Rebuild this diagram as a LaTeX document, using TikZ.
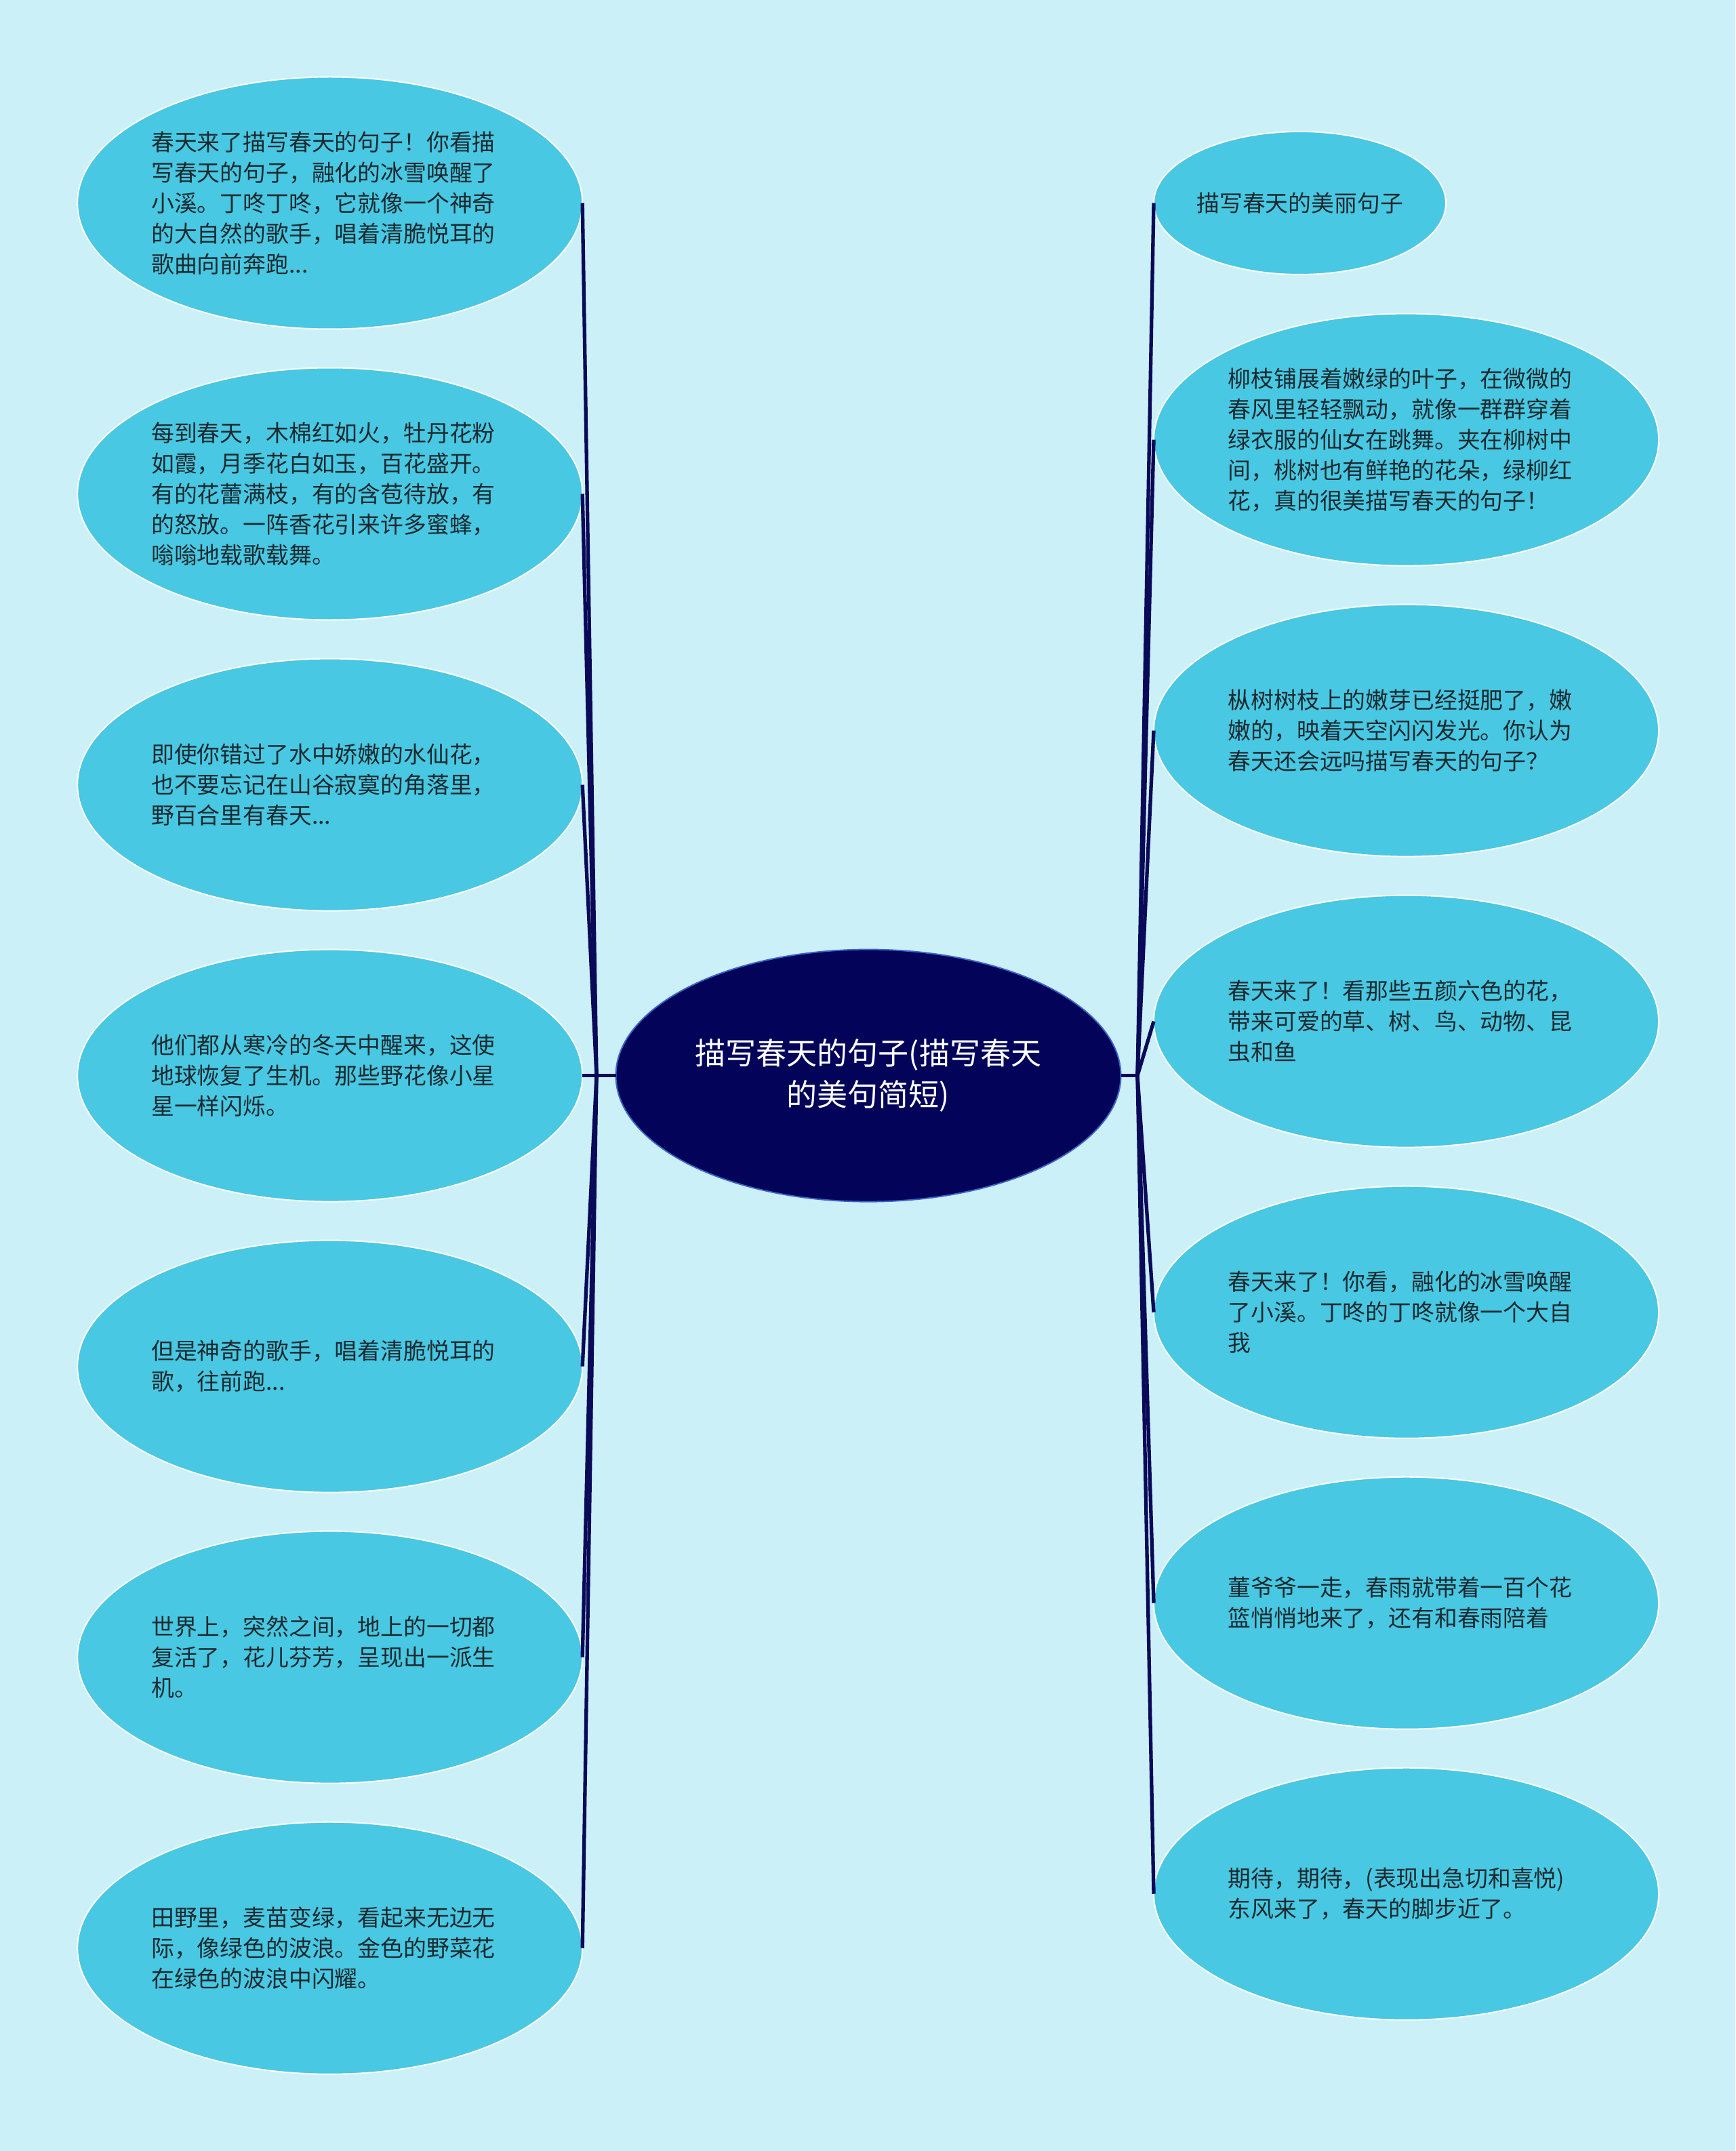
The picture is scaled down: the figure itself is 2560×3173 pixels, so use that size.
\documentclass[tikz,border=0pt]{standalone}
\usepackage{fontspec}
\setmainfont{Noto Sans CJK SC}
\usetikzlibrary{shapes.geometric}
\definecolor{bgc}{RGB}{203,240,248}
\definecolor{leaf}{RGB}{72,200,226}
\definecolor{rootfill}{RGB}{3,3,90}
\definecolor{rootline}{RGB}{60,100,200}
\definecolor{linkc}{RGB}{10,10,88}
\definecolor{txt}{RGB}{28,42,48}
\begin{document}
\begin{tikzpicture}[x=0.3pt,y=-0.3pt,
  leafbox/.style={ellipse,fill=leaf,draw=white,line width=0.6pt,inner sep=0pt,outer sep=0pt,minimum width=223.5pt,minimum height=111.6pt},
  smallbox/.style={leafbox,minimum width=129.3pt,minimum height=63.3pt},
  rootbox/.style={ellipse,fill=rootfill,draw=rootline,line width=0.6pt,inner sep=0pt,outer sep=0pt,minimum width=223.5pt,minimum height=111.6pt},
  leaftext/.style={anchor=west,align=left,inner sep=0pt,text=txt,font=\fontsize{10.15pt}{13.5pt}\selectfont},
  roottext/.style={align=center,inner sep=0pt,text=white,font=\fontsize{13.5pt}{18.3pt}\selectfont},
  link/.style={draw=linkc,line width=1.6pt}
]
\fill[bgc] (0,0) rectangle (2560,3173);
\useasboundingbox (0,0) rectangle (2560,3173);

% connectors (drawn first, under the nodes)
\coordinate (jl) at (880,1586.6);
\coordinate (jr) at (1678,1586.6);

% root
\node[rootbox] (root) at (1281,1586.6) {};
\node[roottext] (roottxt) at (1281,1586.6) {描写春天的句子(描写春天\\的美句简短)};

% left children
\node[leafbox] (l1) at (486.7,299.5) {};
\node[leafbox] (l2) at (486.7,728.5) {};
\node[leafbox] (l3) at (486.7,1157.6) {};
\node[leafbox] (l4) at (486.7,1586.6) {};
\node[leafbox] (l5) at (486.7,2015.6) {};
\node[leafbox] (l6) at (486.7,2444.6) {};
\node[leafbox] (l7) at (486.7,2873.7) {};

\node[leaftext] (t1) at (222.6,299.5) {春天来了描写春天的句子！你看描\\写春天的句子，融化的冰雪唤醒了\\小溪。丁咚丁咚，它就像一个神奇\\的大自然的歌手，唱着清脆悦耳的\\歌曲向前奔跑...};
\node[leaftext] (t2) at (222.6,728.5) {每到春天，木棉红如火，牡丹花粉\\如霞，月季花白如玉，百花盛开。\\有的花蕾满枝，有的含苞待放，有\\的怒放。一阵香花引来许多蜜蜂，\\嗡嗡地载歌载舞。};
\node[leaftext] (t3) at (222.6,1157.6) {即使你错过了水中娇嫩的水仙花，\\也不要忘记在山谷寂寞的角落里，\\野百合里有春天...};
\node[leaftext] (t4) at (222.6,1586.6) {他们都从寒冷的冬天中醒来，这使\\地球恢复了生机。那些野花像小星\\星一样闪烁。};
\node[leaftext] (t5) at (222.6,2015.6) {但是神奇的歌手，唱着清脆悦耳的\\歌，往前跑...};
\node[leaftext] (t6) at (222.6,2444.6) {世界上，突然之间，地上的一切都\\复活了，花儿芬芳，呈现出一派生\\机。};
\node[leaftext] (t7) at (222.6,2873.7) {田野里，麦苗变绿，看起来无边无\\际，像绿色的波浪。金色的野菜花\\在绿色的波浪中闪耀。};

% right children
\node[smallbox] (r1) at (1917.5,299.5) {};
\node[leafbox] (r2) at (2074.5,648.6) {};
\node[leafbox] (r3) at (2074.5,1077.6) {};
\node[leafbox] (r4) at (2074.5,1506.6) {};
\node[leafbox] (r5) at (2074.5,1935.7) {};
\node[leafbox] (r6) at (2074.5,2364.7) {};
\node[leafbox] (r7) at (2074.5,2793.7) {};

\node[leaftext] (s1) at (1764.7,299.5) {描写春天的美丽句子};
\node[leaftext] (s2) at (1811,648.6) {柳枝铺展着嫩绿的叶子，在微微的\\春风里轻轻飘动，就像一群群穿着\\绿衣服的仙女在跳舞。夹在柳树中\\间，桃树也有鲜艳的花朵，绿柳红\\花，真的很美描写春天的句子！};
\node[leaftext] (s3) at (1811,1077.6) {枞树树枝上的嫩芽已经挺肥了，嫩\\嫩的，映着天空闪闪发光。你认为\\春天还会远吗描写春天的句子？};
\node[leaftext] (s4) at (1811,1506.6) {春天来了！看那些五颜六色的花，\\带来可爱的草、树、鸟、动物、昆\\虫和鱼};
\node[leaftext] (s5) at (1811,1935.7) {春天来了！你看，融化的冰雪唤醒\\了小溪。丁咚的丁咚就像一个大自\\我};
\node[leaftext] (s6) at (1811,2364.7) {董爷爷一走，春雨就带着一百个花\\篮悄悄地来了，还有和春雨陪着};
\node[leaftext] (s7) at (1811,2793.7) {期待，期待，(表现出急切和喜悦)\\东风来了，春天的脚步近了。};

% connectors
\draw[link] (root.west) -- (l4.east);
\foreach \n in {l1,l2,l3,l5,l6,l7} \draw[link] (jl) -- (\n.east);
\draw[link] (root.east) -- (jr);
\foreach \n in {r1,r2,r3,r4,r5,r6,r7} \draw[link] (jr) -- (\n.west);
\end{tikzpicture}
\end{document}
